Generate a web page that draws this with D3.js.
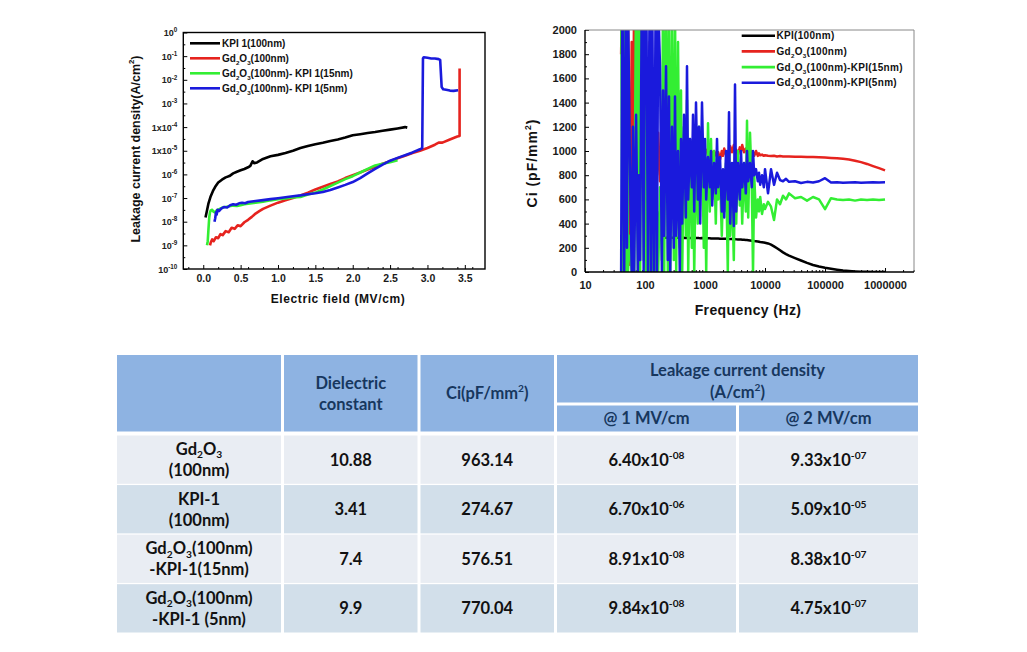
<!DOCTYPE html>
<html><head><meta charset="utf-8">
<script src="https://cdn.jsdelivr.net/npm/d3@7"></script>
<style>
body{margin:0;background:#fff}
svg{display:block}
.chart text{font-family:"Liberation Sans",Arial,sans-serif}
.tbl text{font-family:Lato,"Open Sans",sans-serif;font-weight:bold}
</style>
</head><body>
<svg id="c" width="1027" height="652"></svg>
<script>
// ================= DATA =================
// Left chart: leakage current density (A/cm2) vs electric field (MV/cm)
const leakSeriesNames = ["KPI 1(100nm)", "Gd_2O_3(100nm)", "Gd_2O_3(100nm)- KPI 1(15nm)", "Gd_2O_3(100nm)- KPI 1(5nm)"];
const kpiE = [0.03,0.05,0.07,0.10,0.13,0.16,0.20,0.25,0.30,0.35,0.40,0.45,0.50,0.55,0.60,0.63,0.66,0.68,0.72,0.80,0.90,1.00,1.10,1.20,1.30,1.40,1.50,1.60,1.70,1.80,1.90,2.00,2.10,2.20,2.30,2.40,2.50,2.60,2.70,2.73];
const kpiJ = [1.5e-8,3e-8,6e-8,1.2e-7,2e-7,3e-7,4.5e-7,6e-7,7.5e-7,8.5e-7,1.1e-6,1.3e-6,1.5e-6,1.7e-6,2.0e-6,2.3e-6,3.6e-6,3.0e-6,3.2e-6,4.5e-6,5.8e-6,6.7e-6,8.0e-6,1.0e-5,1.3e-5,1.6e-5,1.9e-5,2.2e-5,2.6e-5,3.0e-5,3.6e-5,4.5e-5,5.0e-5,5.6e-5,6.2e-5,7.0e-5,7.8e-5,8.8e-5,1.0e-4,9.5e-5];
const gdE = [0.09,0.10,0.12,0.14,0.17,0.20,0.23,0.26,0.30,0.34,0.38,0.42,0.46,0.50,0.55,0.60,0.65,0.70,0.75,0.80,0.90,1.00,1.10,1.20,1.30,1.40,1.50,1.60,1.70,1.80,1.90,2.00,2.10,2.20,2.30,2.40,2.50,2.60,2.70,2.80,2.90,3.00,3.10,3.15,3.20,3.30,3.40,3.43,3.43];
const gdJ = [1.0e-9,1.3e-9,1.8e-9,1.5e-9,2.2e-9,2.0e-9,3.0e-9,2.7e-9,4.0e-9,3.6e-9,5.5e-9,5.0e-9,7.0e-9,6.5e-9,9.5e-9,1.2e-8,1.6e-8,2.2e-8,2.8e-8,3.5e-8,4.8e-8,6.4e-8,8.0e-8,1.0e-7,1.3e-7,1.7e-7,2.3e-7,3.0e-7,3.9e-7,5.0e-7,7.0e-7,9.3e-7,1.2e-6,1.6e-6,2.1e-6,2.8e-6,3.6e-6,4.8e-6,6.2e-6,8.0e-6,1.0e-5,1.3e-5,1.8e-5,2.2e-5,2.2e-5,3.0e-5,4.0e-5,4.2e-5,3.0e-2];
const g15E = [0.05,0.06,0.07,0.08,0.09,0.10,0.12,0.13,0.15,0.18,0.22,0.26,0.30,0.35,0.40,0.45,0.50,0.55,0.60,0.70,0.80,0.90,1.00,1.10,1.20,1.30,1.40,1.50,1.60,1.70,1.80,1.90,2.00,2.10,2.20,2.30,2.40,2.50,2.60];
const g15J = [1.0e-9,1.5e-9,5e-9,1.5e-8,2.5e-8,3.0e-8,3.2e-8,2.8e-8,2.5e-8,3.0e-8,3.5e-8,4.0e-8,4.2e-8,4.5e-8,4.8e-8,4.6e-8,5.0e-8,5.5e-8,5.8e-8,6.3e-8,7.0e-8,8.0e-8,8.9e-8,9.5e-8,1.05e-7,1.1e-7,1.4e-7,1.7e-7,2.3e-7,3.2e-7,4.5e-7,6.3e-7,8.4e-7,1.2e-6,1.7e-6,2.4e-6,2.8e-6,3.3e-6,4.0e-6];
const g5E = [0.15,0.16,0.17,0.18,0.19,0.21,0.24,0.28,0.32,0.36,0.40,0.44,0.48,0.52,0.56,0.60,0.70,0.80,0.90,1.00,1.10,1.20,1.30,1.40,1.50,1.60,1.70,1.80,1.90,2.00,2.10,2.20,2.30,2.40,2.50,2.60,2.70,2.80,2.90,2.93,2.94,2.95,3.00,3.05,3.10,3.15,3.17,3.19,3.21,3.25,3.30,3.35,3.41];
const g5J = [1.0e-8,1.4e-8,2.5e-8,2.0e-8,3.2e-8,2.8e-8,3.6e-8,4.2e-8,4.0e-8,5.0e-8,5.5e-8,5.2e-8,6.0e-8,6.3e-8,6.0e-8,6.8e-8,7.5e-8,8.2e-8,9.0e-8,9.8e-8,1.08e-7,1.2e-7,1.3e-7,1.45e-7,1.6e-7,1.8e-7,2.2e-7,2.8e-7,3.6e-7,4.75e-7,7.0e-7,1.1e-6,1.7e-6,2.6e-6,3.8e-6,5.0e-6,6.5e-6,8.5e-6,1.15e-5,1.3e-5,8e-2,9e-2,8.5e-2,8e-2,8e-2,7.5e-2,7e-2,5e-3,4e-3,3.8e-3,3.5e-3,3.4e-3,3.6e-3];
const leakXTicks = [0,0.5,1.0,1.5,2.0,2.5,3.0,3.5];
const leakYTicks = [1,1e-1,1e-2,1e-3,1e-4,1e-5,1e-6,1e-7,1e-8,1e-9,1e-10];
const leakYTickLabels = ["10^{0}","10^{-1}","10^{-2}","10^{-3}","1x10^{-4}","1x10^{-5}","10^{-6}","10^{-7}","10^{-8}","10^{-9}","10^{-10}"];

// Right chart: Ci (pF/mm2) vs frequency (Hz)
const ciSeriesNames = ["KPI(100nm)", "Gd_2O_3(100nm)", "Gd_2O_3(100nm)-KPI(15nm)", "Gd_2O_3(100nm)-KPI(5nm)"];
const freqHz = [40,42,45,48,50,52,56,60,63,66,71,76,79,83,89,95,100,105,112,120,126,132,141,151,158,166,178,191,200,209,224,240,251,263,282,302,316,331,355,380,398,417,447,479,501,525,562,603,631,661,708,759,794,832,891,955,1000,1047,1122,1202,1259,1318,1413,1514,1585,1660,1778,1905,1995,2089,2239,2399,2512,2630,2818,3020,3162,3311,3548,3802,3981,4169,4467,4786,5012,5248,5623,6026,6310,6607,7079,7586,7943,8318,8913,9550,10000,11220,12589,14125,15849,17783,19953,22387,25119,31623,39811,50119,63096,79433,100000,125893,158489,199526,251189,316228,398107,501187,630957,794328,1000000];
const ciKPI = [null,null,null,null,null,null,null,null,null,null,null,null,null,null,null,null,null,null,null,null,null,null,null,null,null,null,
 286,285,286,285,284,285,284,285,284,283,284,283,284,283,283,282,283,282,282,281,282,281,281,280,281,280,280,279,280,279,279,278,278,278,277,277,277,276,276,276,275,275,275,274,274,273,273,272,272,271,271,270,269,269,268,267,266,265,264,263,261,259,258,256,254,252,250,248,246,244,242,236,226,212,196,179,162,148,135,115,95,75,58,45,35,27,19,12,8,5,3,2,1,0,0];
const ciGd = [1800,2600,300,2400,1500,2200,60,1900,700,2400,600,2300,900,2200,700,1900,1000,1700,664,1900,800,1400,900,1300,800,1150,750,1132,746,1100,900,1080,950,1050,960,1030,970,1010,960,1000,940,990,1020,960,1040,970,1010,965,1000,970,1030,960,1010,975,1000,960,990,1010,970,1000,960,985,1000,970,950,990,930,1000,960,1020,970,1000,960,1040,990,1050,980,1010,970,1030,1000,1050,990,1020,980,1010,970,1000,990,960,1000,960,980,965,970,960,965,960,958,960,955,958,955,954,955,952,953,950,950,948,946,943,940,936,930,920,908,893,875,858,840];
const ciGdKPI15 = [2400,0,2200,0,2500,0,300,0,200,0,2400,0,2300,0,2500,100,2200,0,900,0,600,0,800,0,500,0,700,100,2500,0,2200,0,2400,0,2000,100,2300,0,1900,200,1500,0,1200,300,1420,0,1100,200,900,0,1000,400,1200,700,1100,200,800,0,1230,500,1100,600,1000,400,900,600,800,300,700,500,900,0,1000,300,700,100,850,400,1000,550,800,400,900,500,1250,450,1150,700,0,800,450,600,500,620,480,560,520,580,540,430,600,560,630,600,650,610,620,590,620,600,520,610,600,595,600,590,600,595,600,595,600];
const ciGdKPI5 = [0,2400,0,2500,200,2300,900,0,1200,0,1300,0,800,100,2600,0,2300,2400,0,2500,0,2300,0,2400,0,2200,1700,0,1500,300,1700,100,1450,0,1200,200,1450,300,1000,0,1100,400,1300,450,1700,600,1100,700,1300,500,1400,600,1200,400,1400,700,1100,600,950,700,1000,550,900,650,1100,700,950,500,850,450,1000,600,1320,400,900,380,1550,500,900,600,1000,700,900,650,1000,750,900,700,1000,800,850,750,820,720,800,700,850,650,850,720,820,760,750,770,745,750,735,745,740,750,775,740,742,738,740,742,738,740,742,740,741];
const freqTicks = [10,100,1000,10000,100000,1000000];

// Table
const tblRowLabels = [["Gd_2O_3","(100nm)"],["KPI-1","(100nm)"],["Gd_2O_3(100nm)","-KPI-1(15nm)"],["Gd_2O_3(100nm)","-KPI-1 (5nm)"]];
const tblDielectric = ["10.88","3.41","7.4","9.9"];
const tblCi = ["963.14","274.67","576.51","770.04"];
const tblLeak1 = ["6.40x10^{-08}","6.70x10^{-06}","8.91x10^{-08}","9.84x10^{-08}"];
const tblLeak2 = ["9.33x10^{-07}","5.09x10^{-05}","8.38x10^{-07}","4.75x10^{-07}"];
const tblHeaders = [["Dielectric","constant"],["Ci(pF/mm^{2})"]];
const tblGroupHeader = ["Leakage current density","(A/cm^{2})"];
const tblSubHeaders = ["@ 1 MV/cm","@ 2 MV/cm"];

const colors = ["#000000","#e6231e","#33ee33","#1a1adc"];

// ================= HELPERS =================
const svg = d3.select("#c");
function rich(t, str, fs, supScale, subShift){
  const re = /([_^])(\{([^}]*)\}|(.))/g;
  const parts = []; let last = 0, m;
  while ((m = re.exec(str))) {
    if (m.index > last) parts.push({s: str.slice(last, m.index), k: 0});
    parts.push({s: m[3] !== undefined ? m[3] : m[4], k: m[1] === "_" ? -1 : 1});
    last = re.lastIndex;
  }
  if (last < str.length) parts.push({s: str.slice(last), k: 0});
  let cur = 0;
  const sc = supScale || 0.62, sb = subShift || 0.28;
  parts.forEach(p => {
    const target = p.k === 0 ? 0 : (p.k > 0 ? -fs * 0.42 : fs * sb);
    const ts = t.append("tspan").text(p.s).attr("dy", (target - cur).toFixed(2));
    if (p.k !== 0) ts.attr("font-size", (fs * sc).toFixed(2));
    cur = target;
  });
  return t;
}
function styleAxis(g, fs, bold){
  g.select(".domain").remove();
  g.selectAll(".tick line").attr("stroke", "#000").attr("stroke-width", 1);
  g.selectAll("text").attr("font-size", fs).attr("font-family", "Liberation Sans, Arial, sans-serif")
    .attr("font-weight", bold ? "bold" : "normal").attr("fill", "#1a1a1a");
}

// ================= LEFT CHART =================
const L = {x0: 183.3, x1: 485, y0: 32.5, y1: 269};
const xL = d3.scaleLinear().domain([-0.267, 3.77]).range([L.x0, L.x1]);
const yL = d3.scaleLog().domain([1e-10, 1]).range([L.y1, L.y0]);
const gL = svg.append("g").attr("class", "chart");
gL.append("clipPath").attr("id", "clipL").append("rect")
  .attr("x", L.x0).attr("y", L.y0).attr("width", L.x1 - L.x0).attr("height", L.y1 - L.y0);

const axL = gL.append("g").attr("transform", `translate(0,${L.y1})`)
  .call(d3.axisBottom(xL).tickValues(leakXTicks).tickSize(-4).tickPadding(6).tickFormat(d3.format(".1f")));
styleAxis(axL, 10.5, true);
const axLm = gL.append("g").attr("transform", `translate(0,${L.y1})`)
  .call(d3.axisBottom(xL).tickValues(xL.ticks(16).filter(v => !leakXTicks.includes(v))).tickSize(-2).tickFormat(""));
styleAxis(axLm, 10, false);
const ayL = gL.append("g").attr("transform", `translate(${L.x0},0)`)
  .call(d3.axisLeft(yL).tickValues(leakYTicks).tickSize(-4).tickFormat(""));
styleAxis(ayL, 9, false);
const ayLm = gL.append("g").attr("transform", `translate(${L.x0},0)`)
  .call(d3.axisLeft(yL).tickValues(leakYTicks.slice(1).map(v => v * Math.sqrt(10))).tickSize(-2).tickFormat(""));
styleAxis(ayLm, 9, false);
leakYTicks.forEach((v, i) => {
  const t = gL.append("text").attr("x", L.x0 - 6).attr("y", yL(v) + 3.5)
    .attr("text-anchor", "end").attr("font-size", 9).attr("font-weight", "bold").attr("fill", "#222");
  rich(t, leakYTickLabels[i], 9, 0.7);
});

const lineL = d3.line().x(d => xL(d[0])).y(d => yL(d[1]));
const leakData = [d3.zip(kpiE, kpiJ), d3.zip(gdE, gdJ), d3.zip(g15E, g15J), d3.zip(g5E, g5J)];
gL.append("g").attr("clip-path", "url(#clipL)").selectAll("path").data(leakData).join("path")
  .attr("d", lineL).attr("fill", "none").attr("stroke", (d, i) => colors[i])
  .attr("stroke-width", 2.6).attr("stroke-linejoin", "round");

gL.append("rect").attr("x", L.x0).attr("y", L.y0).attr("width", L.x1 - L.x0).attr("height", L.y1 - L.y0)
  .attr("fill", "none").attr("stroke", "#000").attr("stroke-width", 1.4);

// legend
leakSeriesNames.forEach((n, i) => {
  const y = 43.3 + i * 15;
  gL.append("line").attr("x1", 190).attr("x2", 220).attr("y1", y).attr("y2", y)
    .attr("stroke", colors[i]).attr("stroke-width", 2.6);
  const t = gL.append("text").attr("x", 222).attr("y", y + 3.6).attr("font-size", 10)
    .attr("font-weight", "bold").attr("fill", "#111");
  rich(t, n, 10);
});
// axis titles
rich(gL.append("text").attr("x", 338).attr("y", 302.5).attr("text-anchor", "middle")
  .attr("font-size", 12).attr("font-weight", "bold").attr("letter-spacing", 0.6).attr("fill", "#111"),
  "Electric field (MV/cm)", 12);
rich(gL.append("text").attr("transform", "translate(139.5,149) rotate(-90)").attr("text-anchor", "middle")
  .attr("font-size", 12.5).attr("font-weight", "bold").attr("fill", "#111"),
  "Leakage current density(A/cm^2)", 12.5);

// ================= RIGHT CHART =================
const R = {x0: 585, x1: 914, y0: 30, y1: 272};
const xR = d3.scaleLog().domain([10, 3.04e6]).range([R.x0, R.x1]);
const yR = d3.scaleLinear().domain([0, 2000]).range([R.y1, R.y0]);
const gR = svg.append("g").attr("class", "chart");
gR.append("clipPath").attr("id", "clipR").append("rect")
  .attr("x", R.x0).attr("y", R.y0).attr("width", R.x1 - R.x0).attr("height", R.y1 - R.y0);

const axR = gR.append("g").attr("transform", `translate(0,${R.y1})`)
  .call(d3.axisBottom(xR).tickValues(freqTicks).tickSize(-4).tickPadding(9).tickFormat(d3.format("d")));
styleAxis(axR, 11, true);
const axRm = gR.append("g").attr("transform", `translate(0,${R.y1})`)
  .call(d3.axisBottom(xR).tickValues(xR.ticks().filter(v => !freqTicks.includes(v))).tickSize(-2).tickFormat(""));
styleAxis(axRm, 10, false);
const ayR = gR.append("g").attr("transform", `translate(${R.x0},0)`)
  .call(d3.axisLeft(yR).ticks(10).tickSize(-4).tickPadding(8).tickFormat(d3.format("d")));
styleAxis(ayR, 11, true);
const ayRm = gR.append("g").attr("transform", `translate(${R.x0},0)`)
  .call(d3.axisLeft(yR).tickValues(yR.ticks(20).filter(v => v % 200 !== 0)).tickSize(-2).tickFormat(""));
styleAxis(ayRm, 10, false);

const ciData = [ciKPI, ciGd, ciGdKPI15, ciGdKPI5].map(arr => d3.zip(freqHz, arr));
const lineR = d3.line().defined(d => d[1] !== null).x(d => xR(d[0])).y(d => yR(d[1]));
gR.append("g").attr("clip-path", "url(#clipR)").selectAll("path").data(ciData).join("path")
  .attr("d", lineR).attr("fill", "none").attr("stroke", (d, i) => colors[i])
  .attr("stroke-width", 2.5).attr("stroke-linejoin", "round");

// frame
gR.append("line").attr("x1", R.x0).attr("x2", R.x1).attr("y1", R.y0).attr("y2", R.y0).attr("stroke", "#888").attr("stroke-width", 1);
gR.append("line").attr("x1", R.x1).attr("x2", R.x1).attr("y1", R.y0).attr("y2", R.y1).attr("stroke", "#888").attr("stroke-width", 1);
gR.append("line").attr("x1", R.x0).attr("x2", R.x1).attr("y1", R.y1).attr("y2", R.y1).attr("stroke", "#000").attr("stroke-width", 1.4);
gR.append("line").attr("x1", R.x0).attr("x2", R.x0).attr("y1", R.y0).attr("y2", R.y1).attr("stroke", "#000").attr("stroke-width", 1.4);

ciSeriesNames.forEach((n, i) => {
  const y = 35.7 + i * 15.7;
  gR.append("line").attr("x1", 741.7).attr("x2", 775).attr("y1", y).attr("y2", y)
    .attr("stroke", colors[i]).attr("stroke-width", 2.6);
  const t = gR.append("text").attr("x", 776.5).attr("y", y + 3.6).attr("font-size", 10)
    .attr("font-weight", "bold").attr("letter-spacing", 0.3).attr("fill", "#111");
  rich(t, n, 10);
});
rich(gR.append("text").attr("x", 748).attr("y", 315).attr("text-anchor", "middle")
  .attr("font-size", 14).attr("font-weight", "bold").attr("fill", "#111").attr("letter-spacing", 0.4),
  "Frequency (Hz)", 14);
rich(gR.append("text").attr("transform", "translate(536.5,163) rotate(-90)").attr("text-anchor", "middle")
  .attr("font-size", 14).attr("font-weight", "bold").attr("fill", "#111").attr("letter-spacing", 1),
  "Ci (pF/mm^2)", 14);

// ================= TABLE =================
const gT = svg.append("g").attr("class", "tbl");
const cols = [[117, 281], [284, 417.5], [420.5, 554], [557, 736], [739, 918]];
const headTop = 355, headBot = 431.5, groupBot = 402.5, subTop = 405.5;
const headFill = "#8eb3e2", headText = "#17375e";
const rowBand = d3.scaleBand().domain(d3.range(tblRowLabels.length)).range([435.5, 632.5]).paddingInner(0.025);
const rowFills = ["#e9edf3", "#d2dfea"];
const FS = 16.5;

function cellText(cx, cy, lines, color, fs, gap){
  const g = lines.length > 1 ? (gap || 21) : 0;
  lines.forEach((s, k) => {
    const y = cy + (k - (lines.length - 1) / 2) * g + fs * 0.36;
    const t = gT.append("text").attr("x", cx).attr("y", y).attr("text-anchor", "middle")
      .attr("font-size", fs).attr("fill", color);
    rich(t, s, fs, 0.62, 0.2);
  });
}
// header cells
[0, 1, 2].forEach(c => gT.append("rect").attr("x", cols[c][0]).attr("y", headTop)
  .attr("width", cols[c][1] - cols[c][0]).attr("height", headBot - headTop).attr("fill", headFill));
gT.append("rect").attr("x", cols[3][0]).attr("y", headTop).attr("width", cols[4][1] - cols[3][0])
  .attr("height", groupBot - headTop).attr("fill", headFill);
[3, 4].forEach(c => gT.append("rect").attr("x", cols[c][0]).attr("y", subTop)
  .attr("width", cols[c][1] - cols[c][0]).attr("height", headBot - subTop).attr("fill", headFill));
cellText((cols[1][0] + cols[1][1]) / 2, (headTop + headBot) / 2, tblHeaders[0], headText, FS);
cellText((cols[2][0] + cols[2][1]) / 2, (headTop + headBot) / 2, tblHeaders[1], headText, FS);
cellText((cols[3][0] + cols[4][1]) / 2, (headTop + groupBot) / 2 + 2, tblGroupHeader, headText, FS, 22);
cellText((cols[3][0] + cols[3][1]) / 2, (subTop + headBot) / 2, [tblSubHeaders[0]], headText, FS);
cellText((cols[4][0] + cols[4][1]) / 2, (subTop + headBot) / 2, [tblSubHeaders[1]], headText, FS);

// body
tblRowLabels.forEach((lab, r) => {
  const y0 = rowBand(r), h = rowBand.bandwidth(), cy = y0 + h / 2;
  const vals = [lab, [tblDielectric[r]], [tblCi[r]], [tblLeak1[r]], [tblLeak2[r]]];
  cols.forEach((c, ci) => {
    gT.append("rect").attr("x", c[0]).attr("y", y0).attr("width", c[1] - c[0]).attr("height", h)
      .attr("fill", rowFills[r % 2]);
    cellText((c[0] + c[1]) / 2, cy, vals[ci], "#111", FS);
  });
});
</script>
</body></html>
